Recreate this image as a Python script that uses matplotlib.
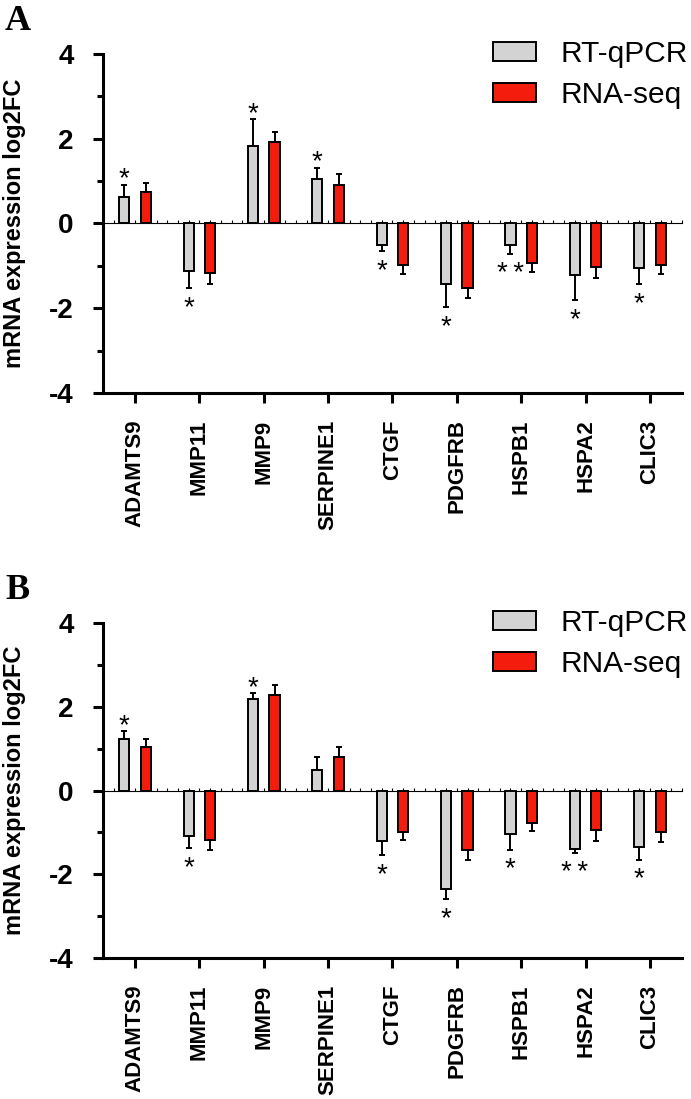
import numpy as np
import matplotlib
matplotlib.use("Agg")
import matplotlib.pyplot as plt
from matplotlib.ticker import MultipleLocator, FixedLocator

plt.rcParams['font.family'] = ['Liberation Sans', 'DejaVu Sans']

genes = ["ADAMTS9", "MMP11", "MMP9", "SERPINE1", "CTGF", "PDGFRB", "HSPB1", "HSPA2", "CLIC3"]

# panel A
rt_a = [0.63, -1.13, 1.84, 1.06, -0.50, -1.43, -0.50, -1.22, -1.06]
rt_a_err = [0.28, 0.39, 0.62, 0.25, 0.15, 0.54, 0.21, 0.58, 0.37]
seq_a = [0.75, -1.18, 1.92, 0.90, -0.97, -1.52, -0.94, -1.02, -0.98]
seq_a_err = [0.21, 0.25, 0.25, 0.26, 0.23, 0.24, 0.20, 0.26, 0.22]
stars_a = ["*", "*", "*", "*", "*", "*", "**", "*", "*"]

# panel B
rt_b = [1.22, -1.09, 2.19, 0.49, -1.21, -2.36, -1.05, -1.39, -1.34]
rt_b_err = [0.19, 0.29, 0.13, 0.32, 0.33, 0.24, 0.36, 0.11, 0.31]
seq_b = [1.04, -1.18, 2.28, 0.79, -0.99, -1.42, -0.77, -0.95, -0.99]
seq_b_err = [0.20, 0.25, 0.23, 0.24, 0.20, 0.23, 0.20, 0.26, 0.24]
stars_b = ["*", "*", "*", "", "*", "*", "*", "**", "*"]

gray = "#d3d3d3"
red = "#f41c0c"


def one_sided(vals, errs):
    v = np.array(vals)
    e = np.array(errs)
    lower = np.where(v < 0, e, 0)
    upper = np.where(v >= 0, e, 0)
    return [lower, upper]


def draw_panel(ax, rt, rt_err, seq, seq_err, stars, letter, fig):
    x = np.arange(len(genes))
    w = 0.16
    off = 0.168
    ax.bar(x - off, rt, w, color=gray, edgecolor="black", linewidth=1.4, label="RT-qPCR", zorder=3)
    ax.bar(x + off, seq, w, color=red, edgecolor="black", linewidth=1.4, label="RNA-seq", zorder=3)
    ax.errorbar(x - off, rt, yerr=one_sided(rt, rt_err), fmt="none", ecolor="black",
                elinewidth=1.4, capsize=2.5, capthick=1.4, zorder=2)
    ax.errorbar(x + off, seq, yerr=one_sided(seq, seq_err), fmt="none", ecolor="black",
                elinewidth=1.4, capsize=2.5, capthick=1.4, zorder=2)

    # significance stars (the asterisk glyph sits high in the text box)
    for i, s in enumerate(stars):
        if not s:
            continue
        v = rt[i]
        if v >= 0:
            ys = v + rt_err[i] + 0.13
        else:
            ys = v - rt_err[i] - 0.48
        ax.text(x[i] - off, ys, "\u2009".join(s), ha="center", va="center", fontsize=20)

    ax.set_xlim(-0.5, len(genes) - 0.5)
    ax.set_ylim(-4, 4)
    ax.spines["top"].set_visible(False)
    ax.spines["right"].set_visible(False)
    ax.spines["left"].set_linewidth(2.2)
    ax.spines["bottom"].set_linewidth(2.2)

    ax.set_xticks(x)
    ax.set_xticklabels(genes, rotation=90, fontsize=16, fontweight="bold", va="top")
    ax.tick_params(axis="x", length=7, width=2.2, pad=12)
    ax.set_yticks([-4, -2, 0, 2, 4])
    ax.set_yticklabels(["-4", "-2", "0", "2", "4"], fontsize=20, fontweight="bold")
    ax.yaxis.set_minor_locator(FixedLocator([-3, -1, 1, 3]))
    ax.tick_params(axis="y", which="major", length=7, width=2.2, pad=14)
    ax.tick_params(axis="y", which="minor", length=4.5, width=2.2)

    ax.set_ylabel("mRNA expression log2FC", fontsize=17, fontweight="bold", va="center")
    ax.yaxis.set_label_coords(-0.152, 0.5)

    # zero line with small ticks
    sec = ax.secondary_xaxis(0.5)
    sec.spines["bottom"].set_linewidth(2.0)
    sec.set_xticks([])
    sec.xaxis.set_minor_locator(MultipleLocator(1 / 6))
    sec.tick_params(which="minor", length=2.5, width=0.8, direction="out")

    leg = ax.legend(loc="upper left", bbox_to_anchor=(493 / 691, ax.get_position().y1 + 0.013),
                    bbox_transform=fig.transFigure, frameon=False, fontsize=21.5,
                    handlelength=1.45, handleheight=0.6, handletextpad=0.8,
                    labelspacing=0.45, borderpad=0, borderaxespad=0)
    for p in leg.get_patches():
        p.set_linewidth(1.4)

    fig.text(5 / 691, ax.get_position().y1 + 0.045, letter, ha="left", va="top",
             fontsize=26, fontweight="bold", family="Liberation Serif")


fig = plt.figure(figsize=(6.91, 10.99), dpi=100)
ax_a = fig.add_axes([0.149, 0.6424, 0.838, 0.3085])
ax_b = fig.add_axes([0.149, 0.1283, 0.838, 0.3048])

draw_panel(ax_a, rt_a, rt_a_err, seq_a, seq_a_err, stars_a, "A", fig)
draw_panel(ax_b, rt_b, rt_b_err, seq_b, seq_b_err, stars_b, "B", fig)

fig.savefig("out.png", dpi=100)
